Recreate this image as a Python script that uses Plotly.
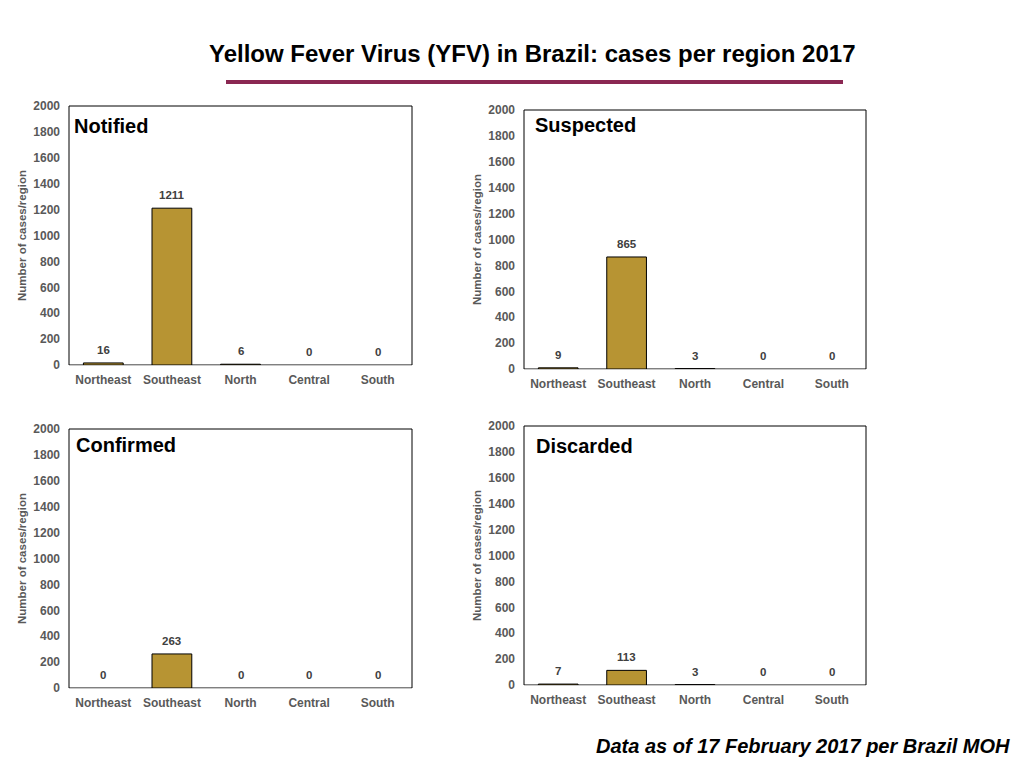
import plotly.graph_objects as go

# Yellow fever cases per region, Brazil 2017
regions = ["Northeast", "Southeast", "North", "Central", "South"]
notified = [16, 1211, 6, 0, 0]
suspected = [9, 865, 3, 0, 0]
confirmed = [0, 263, 0, 0, 0]
discarded = [7, 113, 3, 0, 0]

panel_names = ["Notified", "Suspected", "Confirmed", "Discarded"]
panel_values = [notified, suspected, confirmed, discarded]

W, H = 1024, 768
OFF = 8  # page body margin
FONT = "Liberation Sans"
BAR = "#B79433"
GREY = "#595959"


def px(x):
    return (x - OFF) / W


def py(y):
    return 1 - (y - OFF) / H


# screen pixel boxes of each panel: left, right, top, bottom
boxes = [(69, 412, 106, 365), (524, 866, 110, 369),
         (69, 412, 429, 688), (524, 866, 426, 685)]
label_pos = [(72, 126), (533, 125), (74, 445), (534, 446)]

fig = go.Figure()
shapes = []
annotations = []

for i, (name, vals) in enumerate(zip(panel_names, panel_values)):
    n = "" if i == 0 else str(i + 1)
    fig.add_trace(go.Bar(
        x=regions, y=vals,
        xaxis="x" + n, yaxis="y" + n,
        # no outline on empty bars
        marker=dict(color=BAR, line=dict(color="black",
                                         width=[1 if v > 0 else 0 for v in vals])),
        width=0.58,
        showlegend=False,
    ))
    # value labels above the bars
    for reg, v in zip(regions, vals):
        annotations.append(dict(text=str(v), x=reg, y=v, xref="x" + n, yref="y" + n,
                                yanchor="middle", yshift=13, showarrow=False,
                                font=dict(family=FONT, size=11.5, color="#404040",
                                          weight="bold")))
    l, r, t, b = boxes[i]
    fig.layout["xaxis" + n] = dict(
        domain=[px(l), px(r)], anchor="y" + n, automargin=False,
        showline=True, linecolor="#C8C8C8", linewidth=1,
        ticks="", showgrid=False, fixedrange=True, ticklabelstandoff=4,
        tickfont=dict(family=FONT, size=12, color=GREY, weight="bold"),
    )
    fig.layout["yaxis" + n] = dict(
        domain=[py(b), py(t)], anchor="x" + n, automargin=False,
        range=[0, 2000], dtick=200, showgrid=False, zeroline=False,
        showline=False, ticks="", ticklabelstandoff=8, fixedrange=True,
        tickfont=dict(family=FONT, size=12, color=GREY, weight="bold"),
        title=dict(text="Number of cases/region", standoff=4,
                   font=dict(family=FONT, size=11.5, color=GREY, weight="bold")),
    )
    shapes.append(dict(type="rect", xref="paper", yref="paper",
                       x0=px(l), x1=px(r), y0=py(b), y1=py(t),
                       line=dict(color="black", width=1), layer="below"))
    lx, ly = label_pos[i]
    annotations.append(dict(text=name, xref="paper", yref="paper",
                            x=px(lx), y=py(ly), xanchor="left", yanchor="middle",
                            showarrow=False,
                            font=dict(family=FONT, size=20, color="black", weight="bold")))

annotations.append(dict(text="Yellow Fever Virus (YFV) in Brazil: cases per region 2017",
                        xref="paper", yref="paper", x=px(532), y=py(53),
                        xanchor="center", yanchor="middle", showarrow=False,
                        font=dict(family=FONT, size=24, color="black", weight="bold")))
annotations.append(dict(text="<i>Data as of 17 February 2017 per Brazil MOH</i>",
                        xref="paper", yref="paper", x=px(1012), y=py(746),
                        xanchor="right", yanchor="middle", showarrow=False,
                        font=dict(family=FONT, size=20, color="black", weight="bold")))
shapes.append(dict(type="line", xref="paper", yref="paper",
                   x0=px(226), x1=px(843), y0=py(82), y1=py(82),
                   line=dict(color="#8A2752", width=4)))

fig.update_layout(
    width=W, height=H,
    margin=dict(l=0, r=0, t=0, b=0),
    paper_bgcolor="white", plot_bgcolor="white",
    shapes=shapes, annotations=annotations,
)

fig.write_html("out.html")
